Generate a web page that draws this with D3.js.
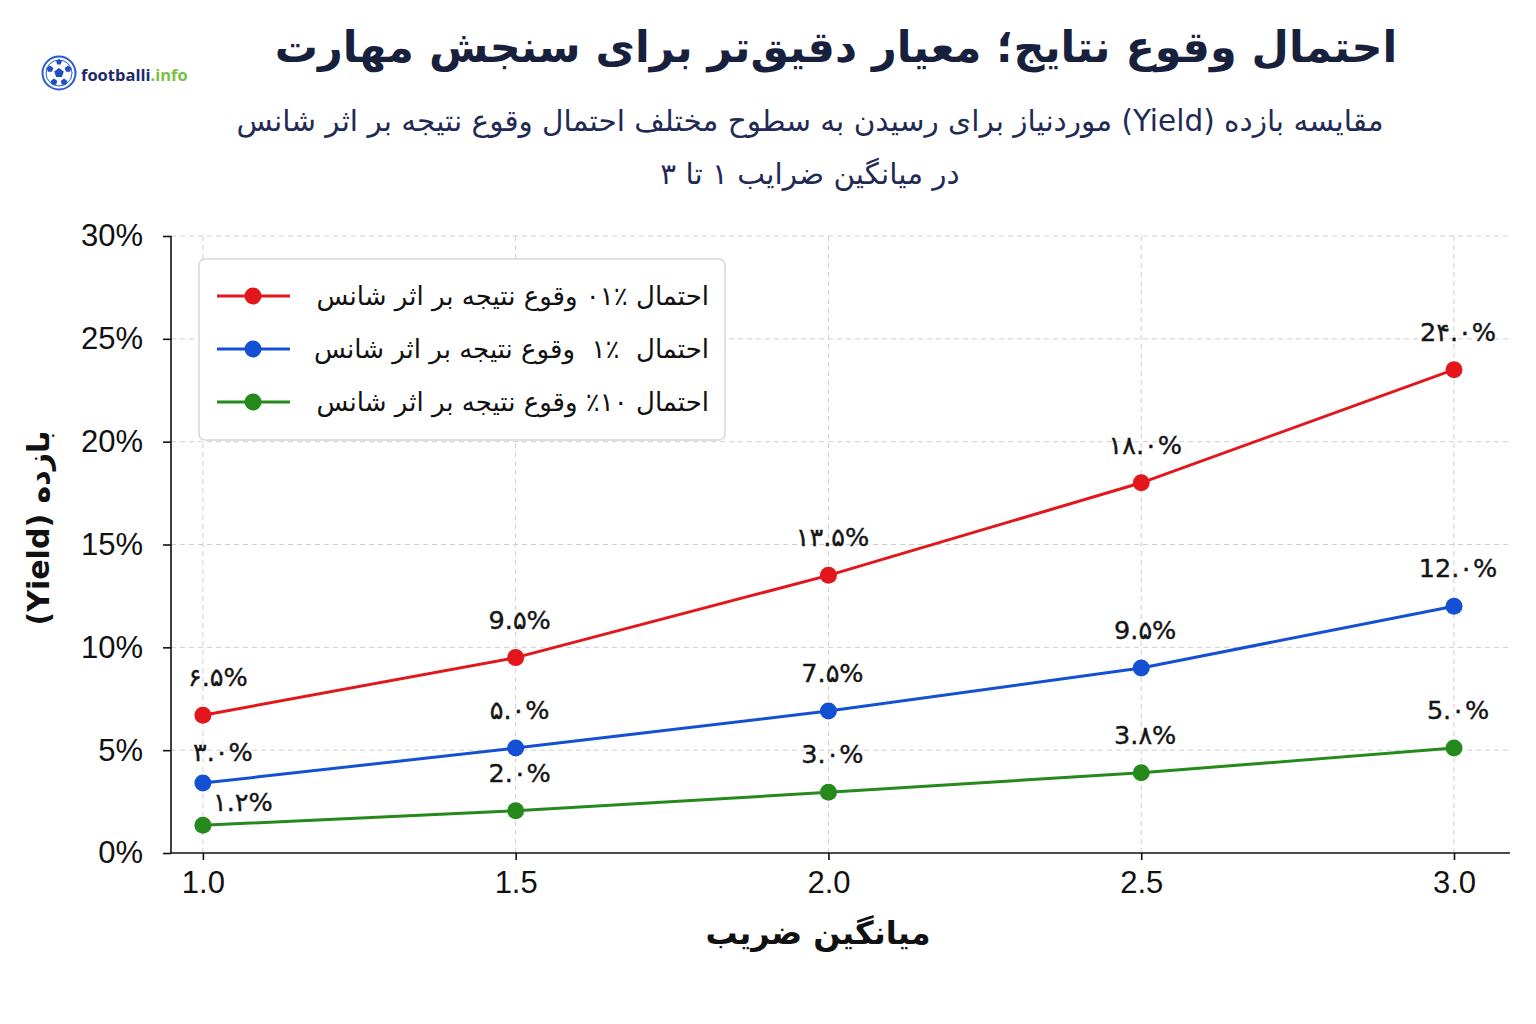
<!DOCTYPE html>
<html>
<head>
<meta charset="utf-8">
<script src="https://cdn.jsdelivr.net/npm/d3@7"></script>
<style>
  body { margin: 0; background: #fff; }
  svg { display: block; }
  .fa { font-family: "DejaVu Sans", sans-serif; direction: rtl; unicode-bidi: embed; white-space: pre; }
  .tick text { font-family: "Liberation Sans", Arial, sans-serif; }
</style>
</head>
<body>
<svg id="chart"></svg>
<script>
// data
var odds = [1.0, 1.5, 2.0, 2.5, 3.0];
var yieldLuck01 = [6.7, 9.5, 13.5, 18.0, 23.5];
var yieldLuck1 = [3.4, 5.1, 6.9, 9.0, 12.0];
var yieldLuck10 = [1.35, 2.05, 2.95, 3.9, 5.1];
var labels01 = ["۶.۵%", "9.۵%", "۱۳.۵%", "۱۸.۰%", "2۴.۰%"];
var labels1 = ["۳.۰%", "۵.۰%", "7.۵%", "9.۵%", "12.۰%"];
var labels10 = ["۱.۲%", "2.۰%", "3.۰%", "3.۸%", "5.۰%"];
var seriesNames = ["احتمال ٪۰۱ وقوع نتیجه بر اثر شانس", "احتمال  ٪۱  وقوع نتیجه بر اثر شانس", "احتمال ۱۰٪ وقوع نتیجه بر اثر شانس"];
var yTicks = [0, 5, 10, 15, 20, 25, 30];
var xTicks = [1.0, 1.5, 2.0, 2.5, 3.0];

var colors = ["#e3161b", "#1450d2", "#25891c"];

var W = 1536, H = 1024;
var svg = d3.select("#chart").attr("width", W).attr("height", H);

var pLeft = 171, pRight = 1510, pTop = 236, pBottom = 853;

var x = d3.scaleLinear().domain([0.949, 3.0895]).range([pLeft, pRight]);
var y = d3.scaleLinear().domain([0, 30]).range([pBottom, pTop]);

// grid
svg.append("g").selectAll("line").data(yTicks.slice(1)).enter().append("line")
  .attr("x1", pLeft).attr("x2", pRight)
  .attr("y1", function(d) { return y(d); }).attr("y2", function(d) { return y(d); })
  .attr("stroke", "#cfcfcf").attr("stroke-width", 1).attr("stroke-dasharray", "5,4");
svg.append("g").selectAll("line").data(xTicks).enter().append("line")
  .attr("x1", function(d) { return x(d); }).attr("x2", function(d) { return x(d); })
  .attr("y1", pTop).attr("y2", pBottom)
  .attr("stroke", "#cfcfcf").attr("stroke-width", 1).attr("stroke-dasharray", "5,4");

// axes
var yAxis = svg.append("g").attr("transform", "translate(" + pLeft + ",0)")
  .call(d3.axisLeft(y).tickValues(yTicks).tickSize(8).tickPadding(20).tickFormat(function(d) { return d + "%"; }));
var xAxis = svg.append("g").attr("transform", "translate(0," + pBottom + ")")
  .call(d3.axisBottom(x).tickValues(xTicks).tickSize(7).tickPadding(11).tickFormat(d3.format(".1f")));
[yAxis, xAxis].forEach(function(a) {
  a.selectAll("path").attr("stroke", "#111").attr("stroke-width", 1.6);
  a.selectAll("line").attr("stroke", "#111").attr("stroke-width", 1.6);
  a.selectAll("text").attr("font-size", 31).attr("fill", "#111");
});
yAxis.select(".domain").attr("d", "M0," + pTop + "V" + pBottom);
xAxis.select(".domain").attr("d", "M" + pLeft + ",0H" + pRight);

// series
var series = [yieldLuck01, yieldLuck1, yieldLuck10];
var seriesLabels = [labels01, labels1, labels10];
var line = d3.line().x(function(d, i) { return x(odds[i]); }).y(function(d) { return y(d); });

// label offsets [dx, dy] for the first column, rest share one
var firstOffsets = [[15, -38], [20, -31], [40, -23]];

series.forEach(function(s, k) {
  var g = svg.append("g");
  g.append("path").datum(s).attr("d", line)
    .attr("fill", "none").attr("stroke", colors[k]).attr("stroke-width", 3);
  g.selectAll("circle").data(s).enter().append("circle")
    .attr("cx", function(d, i) { return x(odds[i]); })
    .attr("cy", function(d) { return y(d); })
    .attr("r", 8.5).attr("fill", colors[k]);
  g.selectAll("text").data(s).enter().append("text")
    .attr("x", function(d, i) { return x(odds[i]) + (i == 0 ? firstOffsets[k][0] : 4); })
    .attr("y", function(d, i) { return y(d) + (i == 0 ? firstOffsets[k][1] : -38); })
    .attr("text-anchor", "middle").attr("dominant-baseline", "central")
    .attr("font-family", "DejaVu Sans, sans-serif").attr("font-size", 25.5).attr("fill", "#151515")
    .attr("stroke", "#151515").attr("stroke-width", 0.4)
    .text(function(d, i) { return seriesLabels[k][i]; });
});

// legend
var lg = svg.append("g");
lg.append("rect").attr("x", 199).attr("y", 259).attr("width", 526).attr("height", 181)
  .attr("rx", 6).attr("fill", "#fff").attr("stroke", "#d6d6d6").attr("stroke-width", 1.5);
seriesNames.forEach(function(n, k) {
  var ly = 296 + k * 53;
  lg.append("line").attr("x1", 217).attr("x2", 290).attr("y1", ly).attr("y2", ly)
    .attr("stroke", colors[k]).attr("stroke-width", 3);
  lg.append("circle").attr("cx", 253).attr("cy", ly).attr("r", 8.5).attr("fill", colors[k]);
  lg.append("text").attr("class", "fa").attr("x", 709).attr("y", ly)
    .attr("text-anchor", "start").attr("dominant-baseline", "central")
    .attr("font-size", 26).attr("fill", "#111").text(n);
});

// titles
svg.append("text").attr("class", "fa").attr("x", 836).attr("y", 47)
  .attr("text-anchor", "middle").attr("dominant-baseline", "central")
  .attr("font-size", 43).attr("font-weight", "bold").attr("fill", "#17213d")
  .text("احتمال وقوع نتایج؛ معیار دقیق‌تر برای سنجش مهارت");
svg.append("text").attr("class", "fa").attr("x", 810).attr("y", 121)
  .attr("text-anchor", "middle").attr("dominant-baseline", "central")
  .attr("font-size", 29.5).attr("fill", "#1f2a55")
  .text("مقایسه بازده (Yield) موردنیاز برای رسیدن به سطوح مختلف احتمال وقوع نتیجه بر اثر شانس");
svg.append("text").attr("class", "fa").attr("x", 810).attr("y", 174)
  .attr("text-anchor", "middle").attr("dominant-baseline", "central")
  .attr("font-size", 29.5).attr("fill", "#1f2a55")
  .text("در میانگین ضرایب ۱ تا ۳");

// axis titles
svg.append("text").attr("class", "fa").attr("x", 818).attr("y", 933)
  .attr("text-anchor", "middle").attr("dominant-baseline", "central")
  .attr("font-size", 32).attr("font-weight", "bold").attr("fill", "#111")
  .text("میانگین ضریب");
svg.append("text").attr("class", "fa")
  .attr("transform", "translate(38,528) rotate(-90)")
  .attr("text-anchor", "middle").attr("dominant-baseline", "central")
  .attr("font-size", 30).attr("font-weight", "bold").attr("fill", "#111")
  .text("بازده (Yield)");

// logo
var logo = svg.append("g").attr("transform", "translate(59,73)");
logo.append("circle").attr("r", 16.5).attr("fill", "#fff").attr("stroke", "#2a5bd7").attr("stroke-width", 2);
logo.append("circle").attr("r", 13).attr("fill", "none").attr("stroke", "#2a5bd7").attr("stroke-width", 1);
var pent = function(cx, cy, r) {
  var pts = d3.range(5).map(function(i) {
    var a = -Math.PI / 2 + i * 2 * Math.PI / 5;
    return [cx + r * Math.cos(a), cy + r * Math.sin(a)];
  });
  return "M" + pts.join("L") + "Z";
};
[[0, 0, 5], [-9, -4, 3.5], [9, -4, 3.5], [-5, 9, 3.5], [5, 9, 3.5], [0, -11, 3]].forEach(function(p) {
  logo.append("path").attr("d", pent(p[0], p[1], p[2])).attr("fill", "#1f4fc4");
});
var lt = svg.append("text").attr("x", 81).attr("y", 74).attr("dominant-baseline", "central")
  .attr("font-family", "Open Sans, sans-serif").attr("font-weight", "bold").attr("font-size", 16.5);
lt.append("tspan").attr("fill", "#1b2a6b").text("footballi");
lt.append("tspan").attr("fill", "#78c043").text(".info");
</script>
</body>
</html>
